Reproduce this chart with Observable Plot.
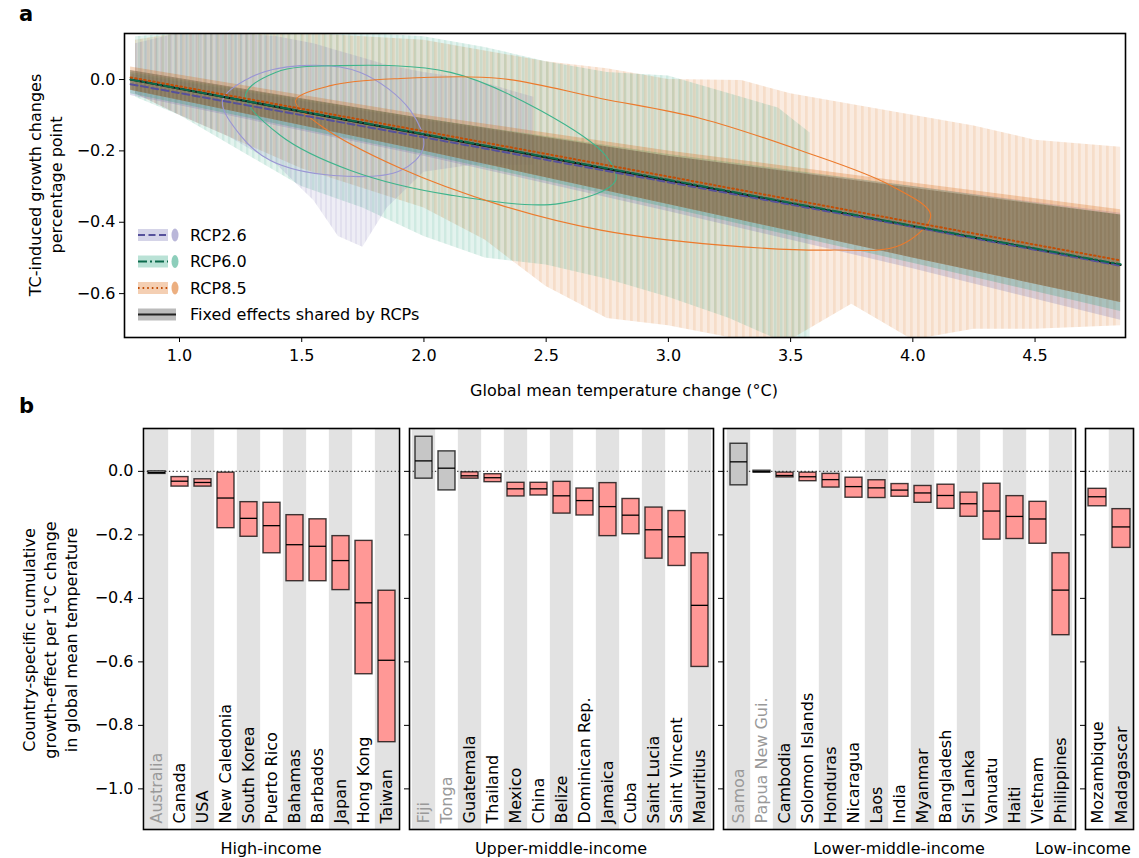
<!DOCTYPE html>
<html><head><meta charset="utf-8">
<script src="https://cdn.jsdelivr.net/npm/d3@7"></script>
<script src="https://cdn.jsdelivr.net/npm/@observablehq/plot@0.6"></script>
<style>
body{margin:0;background:#fff;font-family:"DejaVu Sans",sans-serif;}
#root{position:relative;width:1139px;height:858px;overflow:hidden;background:#fff;}
#root svg{position:absolute;overflow:visible;}
#root svg text{font-size:16px !important;font-family:"DejaVu Sans",sans-serif !important;}
.t{position:absolute;font-size:16px;color:#000;white-space:nowrap;line-height:21px;}
.rot{transform:translate(-50%,-50%) rotate(-90deg);text-align:center;}
.bold{font-weight:bold;font-size:21px;}
</style></head><body><div id="root"></div>
<script>
// ---------------- Panel a data ----------------
const xTicksA = [1.0, 1.5, 2.0, 2.5, 3.0, 3.5, 4.0, 4.5];
const yTicksA = [0.0, -0.2, -0.4, -0.6];
const rcpNames = ["RCP2.6", "RCP6.0", "RCP8.5"];

// envelope of the scattered per-run ellipses (upper / lower edges)
const env26X  = [0.82, 1.0, 1.2, 1.4, 1.55, 1.65, 1.75, 1.85, 2.0, 2.2, 2.45];
const env26Hi = [0.10, 0.13, 0.13, 0.12, 0.10, 0.08, 0.06, 0.04, 0.02, 0.0, -0.05];
const env26Lo = [-0.04, -0.10, -0.16, -0.24, -0.34, -0.44, -0.47, -0.36, -0.26, -0.24, -0.24];

const env60X  = [0.82, 1.0, 1.25, 1.5, 1.75, 2.0, 2.25, 2.5, 2.75, 3.0, 3.25, 3.45, 3.58];
const env60Hi = [0.12, 0.13, 0.13, 0.13, 0.13, 0.12, 0.09, 0.05, 0.02, 0.01, -0.04, -0.08, -0.15];
const env60Lo = [-0.05, -0.10, -0.20, -0.30, -0.36, -0.44, -0.50, -0.52, -0.56, -0.61, -0.67, -0.73, -0.73];

const env85X  = [0.82, 1.0, 1.5, 2.0, 2.25, 2.5, 2.75, 3.0, 3.3, 3.5, 3.75, 4.0, 4.25, 4.5, 4.85];
const env85Hi = [0.11, 0.13, 0.13, 0.11, 0.08, 0.05, 0.03, 0.0, -0.003, -0.04, -0.07, -0.10, -0.13, -0.17, -0.19];
const env85Lo = [-0.04, -0.10, -0.25, -0.36, -0.45, -0.58, -0.67, -0.69, -0.73, -0.73, -0.63, -0.73, -0.70, -0.70, -0.69];

// regression lines and confidence bands
const bandX      = [0.8, 2.0, 3.0, 4.0, 4.85];
const fixedMean  = [0.0, -0.154, -0.283, -0.411, -0.52];
const fixedLo    = [-0.03, -0.20, -0.35, -0.50, -0.625];
const fixedHi    = [0.025, -0.11, -0.215, -0.305, -0.38];
const rcp26Mean  = [-0.013, -0.162, -0.288, -0.413, -0.522];
const rcp26Lo    = [-0.045, -0.215, -0.37, -0.53, -0.675];
const rcp26Hi    = [0.015, -0.115, -0.215, -0.30, -0.375];
const rcp60Mean  = [0.0, -0.153, -0.281, -0.41, -0.518];
const rcp60Lo    = [-0.04, -0.21, -0.36, -0.515, -0.65];
const rcp60Hi    = [0.02, -0.11, -0.21, -0.30, -0.38];
const rcp85Mean  = [0.006, -0.145, -0.272, -0.40, -0.507];
const rcp85Lo    = [-0.03, -0.20, -0.35, -0.50, -0.625];
const rcp85Hi    = [0.035, -0.10, -0.20, -0.29, -0.365];

// outline points of the large ellipses
const ell26X = [1.176, 1.29, 1.495, 1.74, 1.945, 1.998, 1.904, 1.63, 1.372, 1.25];
const ell26Y = [-0.059, 0.006, 0.039, 0.020, -0.087, -0.190, -0.255, -0.269, -0.227, -0.157];
const ell60X = [1.27, 1.393, 1.659, 2.109, 2.477, 2.743, 2.784, 2.559, 2.109, 1.70, 1.413];
const ell60Y = [-0.045, 0.020, 0.039, 0.020, -0.087, -0.213, -0.283, -0.347, -0.324, -0.255, -0.157];
const ell85X = [1.475, 1.618, 1.904, 2.313, 2.723, 3.132, 3.541, 3.909, 4.073, 3.95, 3.664, 3.214, 2.723, 2.313, 1.904, 1.577];
const ell85Y = [-0.059, -0.017, 0.003, 0.003, -0.053, -0.109, -0.199, -0.297, -0.380, -0.464, -0.478, -0.464, -0.422, -0.352, -0.249, -0.129];

// ---------------- Panel b data ----------------
const groups = ["High-income", "Upper-middle-income", "Lower-middle-income", "Low-income"];
const groupSizes = [11, 13, 15, 2];
const countries = ["Australia","Canada","USA","New Caledonia","South Korea","Puerto Rico","Bahamas","Barbados","Japan","Hong Kong","Taiwan",
  "Fiji","Tonga","Guatemala","Thailand","Mexico","China","Belize","Dominican Rep.","Jamaica","Cuba","Saint Lucia","Saint Vincent","Mauritius",
  "Samoa","Papua New Gui.","Cambodia","Solomon Islands","Honduras","Nicaragua","Laos","India","Myanmar","Bangladesh","Sri Lanka","Vanuatu","Haiti","Vietnam","Philippines",
  "Mozambique","Madagascar"];
const effTop = [0.0,-0.018,-0.025,-0.004,-0.097,-0.099,-0.138,-0.151,-0.204,-0.219,-0.376,
  0.109,0.063,-0.003,-0.009,-0.036,-0.036,-0.033,-0.054,-0.037,-0.087,-0.114,-0.125,-0.258,
  0.087,0.002,-0.004,-0.004,-0.008,-0.020,-0.028,-0.040,-0.046,-0.042,-0.067,-0.039,-0.078,-0.096,-0.258,
  -0.055,-0.119];
const effMed = [-0.004,-0.031,-0.035,-0.084,-0.148,-0.171,-0.231,-0.236,-0.281,-0.414,-0.595,
  0.033,0.010,-0.014,-0.020,-0.055,-0.055,-0.077,-0.092,-0.111,-0.138,-0.184,-0.206,-0.422,
  0.030,-0.001,-0.013,-0.017,-0.026,-0.048,-0.052,-0.059,-0.068,-0.076,-0.102,-0.125,-0.142,-0.150,-0.374,
  -0.080,-0.175];
const effBot = [-0.008,-0.048,-0.048,-0.179,-0.206,-0.258,-0.346,-0.346,-0.374,-0.639,-0.853,
  -0.023,-0.060,-0.023,-0.034,-0.079,-0.076,-0.133,-0.139,-0.204,-0.198,-0.275,-0.298,-0.616,
  -0.044,-0.004,-0.019,-0.031,-0.051,-0.083,-0.084,-0.080,-0.099,-0.118,-0.143,-0.215,-0.213,-0.228,-0.516,
  -0.110,-0.241];
const notSignificant = ["Australia", "Fiji", "Tonga", "Samoa", "Papua New Gui."];
const yTicksB = [0.0, -0.2, -0.4, -0.6, -0.8, -1.0];

// ---------------- build ----------------
const root = document.getElementById("root");
const NS = "http://www.w3.org/2000/svg";
const FONT = "DejaVu Sans";
const fmt = d3.format(".1f");
const colors = {"RCP2.6": "#7570b3", "RCP6.0": "#1b9e77", "RCP8.5": "#d95f02"};
const lineColors = {"RCP2.6": "#56519b", "RCP6.0": "#0c6b4d", "RCP8.5": "#c24e06"};
const dashes = {"RCP2.6": "7,3.5", "RCP6.0": "9,3,2,3", "RCP8.5": "1.6,3"};
const ellColors = {"RCP2.6": "#9a96d4", "RCP6.0": "#3fb48c", "RCP8.5": "#ec7a2c"};
const patId = {"RCP2.6": "pat26", "RCP6.0": "pat60", "RCP8.5": "pat85"};
const patW = {"RCP2.6": 5, "RCP6.0": 6, "RCP8.5": 7};

const envs = [
  {rcp: "RCP8.5", x: env85X, hi: env85Hi, lo: env85Lo},
  {rcp: "RCP6.0", x: env60X, hi: env60Hi, lo: env60Lo},
  {rcp: "RCP2.6", x: env26X, hi: env26Hi, lo: env26Lo}
];
const bands = [
  {rcp: "RCP2.6", mean: rcp26Mean, lo: rcp26Lo, hi: rcp26Hi},
  {rcp: "RCP6.0", mean: rcp60Mean, lo: rcp60Lo, hi: rcp60Hi},
  {rcp: "RCP8.5", mean: rcp85Mean, lo: rcp85Lo, hi: rcp85Hi}
];
const ells = [
  {rcp: "RCP2.6", x: ell26X, y: ell26Y},
  {rcp: "RCP6.0", x: ell60X, y: ell60Y},
  {rcp: "RCP8.5", x: ell85X, y: ell85Y}
];
const toRows = (xs, cols) => xs.map((x, i) => { const r = {x}; for (const k in cols) r[k] = cols[k][i]; return r; });

const marksA = [];
for (const e of envs) {
  const rows = toRows(e.x, {hi: e.hi, lo: e.lo});
  marksA.push(Plot.areaY(rows, {x: "x", y1: "lo", y2: "hi", fill: `url(#${patId[e.rcp]})`, clip: true}));
}
for (const b of bands) {
  const rows = toRows(bandX, {lo: b.lo, hi: b.hi});
  marksA.push(Plot.areaY(rows, {x: "x", y1: "lo", y2: "hi", fill: colors[b.rcp], fillOpacity: 0.25, clip: true}));
}
marksA.push(Plot.areaY(toRows(bandX, {lo: fixedLo, hi: fixedHi}), {x: "x", y1: "lo", y2: "hi", fill: "url(#patFixed)", clip: true}));
for (const e of ells) {
  marksA.push(Plot.line(toRows(e.x, {y: e.y}), {x: "x", y: "y", stroke: ellColors[e.rcp], strokeWidth: 1.1, curve: "catmull-rom-closed", clip: true}));
}
marksA.push(Plot.line(toRows(bandX, {y: fixedMean}), {x: "x", y: "y", stroke: "#111", strokeWidth: 2}));
for (const b of bands) {
  marksA.push(Plot.line(toRows(bandX, {y: b.mean}), {x: "x", y: "y", stroke: lineColors[b.rcp], strokeWidth: 2, strokeDasharray: dashes[b.rcp]}));
}
marksA.push(Plot.frame({stroke: "#000", strokeWidth: 1.6}));

const plotA = Plot.plot({
  width: 1139, height: 400,
  marginLeft: 124, marginRight: 14, marginTop: 33, marginBottom: 63,
  style: {fontFamily: FONT, fontSize: "16px", background: "transparent", color: "#000"},
  x: {domain: [0.775, 4.87], ticks: xTicksA, tickFormat: fmt, label: null, tickSize: 5, tickPadding: 7},
  y: {domain: [-0.723, 0.129], ticks: yTicksA, tickFormat: fmt, label: null, tickSize: 5, tickPadding: 4},
  marks: marksA
});
// stripe patterns imitating the dense vertical spikes
const defs = document.createElementNS(NS, "defs");
let pd = "";
for (const r of rcpNames) {
  const w = patW[r];
  pd += `<pattern id="${patId[r]}" patternUnits="userSpaceOnUse" width="${w}" height="40">` +
        `<rect width="${w}" height="40" fill="${colors[r]}" fill-opacity="0.12"/>` +
        `<rect width="${w * 0.4}" height="40" fill="${colors[r]}" fill-opacity="0.1"/></pattern>`;
}
pd += `<pattern id="patFixed" patternUnits="userSpaceOnUse" width="4" height="40">` +
      `<rect width="4" height="40" fill="#735f42" fill-opacity="0.55"/>` +
      `<rect x="2.5" width="1" height="40" fill="#c4b7a2" fill-opacity="0.3"/></pattern>`;
defs.innerHTML = pd;
plotA.insertBefore(defs, plotA.firstChild);
plotA.style.left = "0px"; plotA.style.top = "0px";
root.appendChild(plotA);

// legend (inside panel a)
const leg = document.createElementNS(NS, "svg");
leg.setAttribute("width", 340); leg.setAttribute("height", 110);
leg.style.left = "132px"; leg.style.top = "222px";
const legRows = rcpNames.map((r, i) => ({label: r, rcp: r, y: 13 + i * 26.5}));
let html = "";
for (const r of legRows) {
  html += `<rect x="6" y="${r.y - 6}" width="30" height="12" fill="${colors[r.rcp]}" fill-opacity="0.3"/>`;
  html += `<line x1="6" x2="36" y1="${r.y}" y2="${r.y}" stroke="${lineColors[r.rcp]}" stroke-width="2" stroke-dasharray="${dashes[r.rcp]}"/>`;
  html += `<ellipse cx="43" cy="${r.y}" rx="3.5" ry="6.5" fill="${colors[r.rcp]}" fill-opacity="0.5"/>`;
  html += `<text x="58" y="${r.y}" dy="0.35em">${r.label}</text>`;
}
const fy = 13 + 3 * 26.5;
html += `<rect x="6" y="${fy - 6}" width="38" height="12" fill="#aaa" fill-opacity="0.8"/>`;
html += `<line x1="6" x2="44" y1="${fy}" y2="${fy}" stroke="#222" stroke-width="2"/>`;
html += `<text x="58" y="${fy}" dy="0.35em">Fixed effects shared by RCPs</text>`;
leg.innerHTML = html;
root.appendChild(leg);

// panel b
const bRows = countries.map((c, i) => ({country: c, top: effTop[i], med: effMed[i], bot: effBot[i], sig: !notSignificant.includes(c)}));
const panelX0 = [143, 409, 723, 1085];
const panelW = [256, 304, 352, 48];
const PTOP = 428, PBOT = 829;
const yDomB = [-1.128, 0.135];
let start = 0;
groups.forEach((g, gi) => {
  const rows = bRows.slice(start, start + groupSizes[gi]);
  start += groupSizes[gi];
  const ml = gi === 0 ? 60 : 8, mr = 4, mt = 6, mb = 6;
  const n = rows.length;
  const step = panelW[gi] / n;
  const ins = -(step * 0.27) / 2;
  const stripeRows = rows.filter((d, i) => (gi === 3 ? i % 2 === 1 : i % 2 === 0));
  const p = Plot.plot({
    width: ml + panelW[gi] + mr, height: mt + (PBOT - PTOP) + mb,
    marginLeft: ml, marginRight: mr, marginTop: mt, marginBottom: mb,
    style: {fontFamily: FONT, fontSize: "16px", background: "transparent", color: "#000"},
    x: {domain: rows.map(d => d.country), paddingInner: 0.27, paddingOuter: 0.135, axis: null},
    y: {domain: yDomB, ticks: yTicksB, tickFormat: gi === 0 ? fmt : () => "", label: null, tickSize: 5, tickPadding: 5},
    marks: [
      Plot.barY(stripeRows, {x: "country", y1: yDomB[0], y2: yDomB[1], fill: "#e2e2e2", insetLeft: ins, insetRight: ins}),
      Plot.ruleY([0], {stroke: "#444", strokeWidth: 1.2, strokeDasharray: "1.3,2.4"}),
      Plot.barY(rows, {x: "country", y1: "bot", y2: "top", fill: d => d.sig ? "#ff9896" : "#c6c6c6", stroke: "#000", strokeOpacity: 0.75, strokeWidth: 1.4}),
      Plot.tickY(rows, {x: "country", y: "med", stroke: "#000", strokeWidth: 1.3}),
      Plot.text(rows, {x: "country", frameAnchor: "bottom", text: "country", rotate: -90, textAnchor: "start", lineAnchor: "middle", dy: -6, fill: d => d.sig ? "#000" : "#999"}),
      Plot.frame({stroke: "#000", strokeWidth: 1.6})
    ]
  });
  p.style.left = (panelX0[gi] - ml) + "px";
  p.style.top = (PTOP - mt) + "px";
  root.appendChild(p);
});

// text labels
function addText(txt, x, y, cls, extra) {
  const d = document.createElement("div");
  d.className = "t " + (cls || "");
  d.innerHTML = txt;
  d.style.left = x + "px"; d.style.top = y + "px";
  if (extra) Object.assign(d.style, extra);
  root.appendChild(d);
  return d;
}
addText("a", 19, 4, "bold");
addText("b", 19, 396, "bold");
addText("TC-induced growth changes<br>percentage point", 46, 185, "rot");
addText("Global mean temperature change (°C)", 624, 390, "", {transform: "translate(-50%,-50%)"});
addText("Country-specific cumulative<br>growth-effect per 1°C change<br>in global mean temperature", 50, 640, "rot");
const groupCenters = [271, 561, 899, 1083];
groups.forEach((g, i) => addText(g, groupCenters[i], 848, "", {transform: "translate(-50%,-50%)"}));
</script>
</body></html>
